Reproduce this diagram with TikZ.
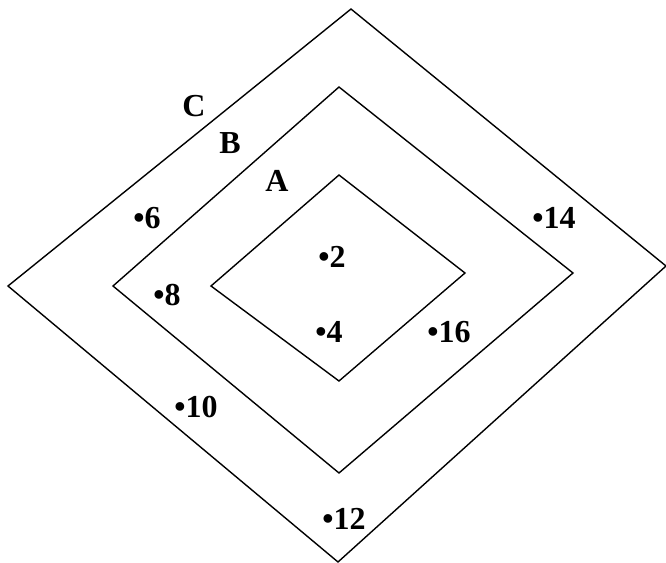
\documentclass[tikz,border=0pt]{standalone}
\usepackage{tikz}
\usepackage{fontspec}
\setmainfont{Liberation Serif}
\usetikzlibrary{positioning}

\newcommand{\elt}[1]{\textbullet#1}

\begin{document}
\begin{tikzpicture}[
    x=0.5pt, y=-0.5pt,
    set/.style={draw, line width=0.7pt, line join=miter},
    lab/.style={font=\fontsize{16}{18}\selectfont\bfseries, inner sep=0pt},
    elem/.style={font=\fontsize{16}{18}\selectfont\bfseries, inner sep=0pt, anchor=west}
]
    \useasboundingbox (0,0) rectangle (666,563);

    % the three sets, outer to inner
    \draw[set] (351,9) -- (666,266) -- (338,562) -- (8,286) -- cycle;
    \draw[set] (339,87) -- (573,273) -- (339,473) -- (113,286) -- cycle;
    \draw[set] (339,175) -- (465,273) -- (339,381) -- (211,286) -- cycle;

    \node[lab] (C) at (194,106) {C};
    \node[lab] (B) at (230,143) {B};
    \node[lab] (A) at (277,181) {A};

    % elements
    \node[elem] (e6)  at (133,218) {\elt{6}};
    \node[elem] (e14) at (532,218) {\elt{14}};
    \node[elem] (e2)  at (318,257) {\elt{2}};
    \node[elem] (e8)  at (153,295) {\elt{8}};
    \node[elem] (e4)  at (315,332) {\elt{4}};
    \node[elem] (e16) at (427,332) {\elt{16}};
    \node[elem] (e10) at (174,407) {\elt{10}};
    \node[elem] (e12) at (322,519) {\elt{12}};
\end{tikzpicture}
\end{document}
